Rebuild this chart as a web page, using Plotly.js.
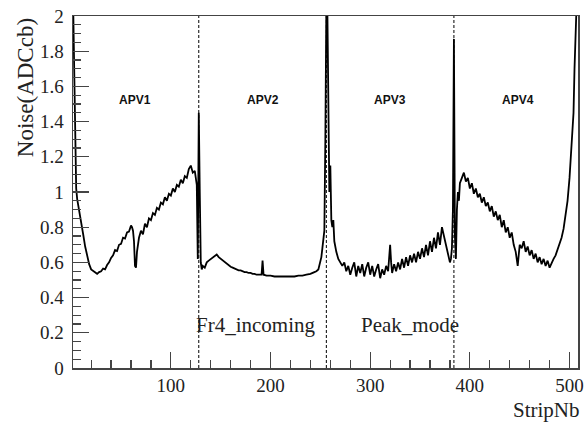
<!DOCTYPE html>
<html>
<head>
<meta charset="utf-8">
<script src="https://cdn.plot.ly/plotly-3.0.1.min.js"></script>
<style>html,body{margin:0;padding:0;background:#fff;}#chart{width:584px;height:427px;}</style>
</head>
<body>
<div id="chart"></div>
<script>
// Strip numbers and noise values (ADC counts)
const apv1Strips = [1,2,3,4,5,6,7,8,9,10,12,14,16,18,20,22,24,26,28,30,32,34,36,38,40,42,44,46,48,50,52,54,56,58,60,61,62,63,64,65,66,67,68,70,72,74,76,78,80,82,84,86,88,90,92,94,96,98,100,102,104,106,108,110,112,114,116,118,120,122,124,125,126,127,128];
const apv1Noise  = [2.05,2.05,1.7,1.25,1.02,0.96,0.93,0.9,0.86,0.82,0.76,0.69,0.63,0.59,0.56,0.55,0.54,0.535,0.545,0.55,0.565,0.56,0.585,0.6,0.625,0.64,0.67,0.665,0.7,0.705,0.74,0.735,0.77,0.775,0.81,0.8,0.78,0.72,0.58,0.57,0.66,0.72,0.74,0.78,0.76,0.82,0.8,0.85,0.84,0.88,0.87,0.91,0.9,0.94,0.93,0.97,0.95,0.99,0.98,1.02,1.0,1.04,1.03,1.07,1.05,1.09,1.08,1.13,1.15,1.11,1.12,1.08,1.04,0.62,1.45];

const apv2Strips = [129,130,131,132,134,136,138,140,142,144,146,148,150,152,154,156,158,160,162,164,166,168,170,172,174,176,178,180,182,184,186,188,190,191,192,193,196,200,204,208,212,216,220,224,228,232,236,240,244,246,248,250,251,252,253,254,255,256];
const apv2Noise  = [1.0,0.6,0.56,0.58,0.57,0.6,0.61,0.62,0.63,0.64,0.645,0.63,0.62,0.61,0.6,0.59,0.585,0.575,0.57,0.565,0.56,0.555,0.555,0.55,0.545,0.545,0.54,0.54,0.535,0.535,0.53,0.53,0.53,0.53,0.61,0.53,0.525,0.525,0.52,0.52,0.52,0.52,0.52,0.52,0.525,0.525,0.53,0.535,0.545,0.55,0.56,0.6,0.63,0.68,0.72,0.78,1.3,2.05];

const apv3Strips = [257,258,259,260,261,262,263,264,265,266,268,270,272,274,276,278,280,282,284,286,288,290,292,294,296,298,300,302,304,306,308,310,312,314,316,318,320,321,322,324,326,328,330,332,334,336,338,340,342,344,346,348,350,352,354,356,358,360,362,364,366,368,370,372,374,376,378,380,381,382,383,384];
const apv3Noise  = [2.05,1.3,1.0,1.15,0.84,0.8,0.84,0.72,0.68,0.66,0.62,0.6,0.58,0.6,0.55,0.58,0.53,0.57,0.6,0.52,0.58,0.54,0.59,0.52,0.57,0.6,0.53,0.58,0.52,0.56,0.59,0.51,0.56,0.53,0.58,0.55,0.7,0.6,0.54,0.59,0.55,0.6,0.56,0.62,0.57,0.63,0.58,0.64,0.6,0.65,0.6,0.66,0.62,0.68,0.63,0.7,0.64,0.72,0.66,0.74,0.68,0.77,0.7,0.8,0.75,0.7,0.64,0.6,0.62,0.68,0.9,1.87];

const apv4Strips = [385,386,387,388,389,390,392,394,396,398,400,402,404,406,408,410,412,414,416,418,420,422,424,426,428,430,432,434,436,438,440,442,444,446,448,449,450,452,454,456,458,460,462,464,466,468,470,472,474,476,478,480,482,484,486,488,490,492,494,496,498,500,502,504,505,506,507,508];
const apv4Noise  = [0.75,0.62,0.9,1.0,0.95,1.05,1.08,1.11,1.06,1.08,1.02,1.05,0.99,1.02,0.97,0.99,0.94,0.97,0.92,0.94,0.89,0.92,0.86,0.89,0.84,0.87,0.8,0.84,0.77,0.8,0.74,0.77,0.7,0.66,0.58,0.64,0.7,0.68,0.72,0.66,0.69,0.64,0.67,0.62,0.65,0.6,0.63,0.59,0.62,0.58,0.61,0.57,0.6,0.62,0.64,0.67,0.7,0.74,0.79,0.86,0.95,1.08,1.25,1.45,1.7,1.95,2.05,2.05];

const apvBoundaries = [128, 256, 384];
const apvLabels = ['APV1','APV2','APV3','APV4'];
const apvLabelX = [64, 192, 320, 448];
const apvLabelY = 1.52;
const modeLabels = ['Fr4_incoming','Peak_mode'];
const modeLabelX = [185, 340];
const modeLabelY = 0.245;

const strips = [].concat(apv1Strips, apv2Strips, apv3Strips, apv4Strips);
const noise = [].concat(apv1Noise, apv2Noise, apv3Noise, apv4Noise);

const serif = 'Liberation Serif';

const traces = [{
  x: strips, y: noise, type: 'scatter', mode: 'lines',
  line: {color: '#000', width: 1.8}, hoverinfo: 'skip', showlegend: false
}];

const shapes = apvBoundaries.map(b => ({
  type: 'line', xref: 'x', yref: 'y', x0: b, x1: b, y0: 0, y1: 2,
  line: {color: '#000', width: 1, dash: '3px,2px'}
}));

const annotations = [];
apvLabels.forEach((t, i) => annotations.push({
  x: apvLabelX[i], y: apvLabelY, xref: 'x', yref: 'y', text: t, showarrow: false,
  font: {family: 'Liberation Sans', size: 12, color: '#111', weight: 'bold'}
}));
modeLabels.forEach((t, i) => annotations.push({
  x: modeLabelX[i], y: modeLabelY, xref: 'x', yref: 'y', text: t, showarrow: false,
  font: {family: serif, size: 21, color: '#222'}
}));
annotations.push({
  x: -0.095, y: 0.795, xref: 'paper', yref: 'paper', text: 'Noise(ADCcb)', showarrow: false,
  xanchor: 'center', yanchor: 'middle',
  textangle: -90, font: {family: serif, size: 23, color: '#222'}
});
annotations.push({
  x: 1.008, y: -0.119, xref: 'paper', yref: 'paper', text: 'StripNb', showarrow: false,
  xanchor: 'right', yanchor: 'middle', font: {family: serif, size: 21, color: '#222'}
});

const layout = {
  width: 584, height: 427,
  margin: {l: 73, r: 6, t: 16, b: 59},
  paper_bgcolor: '#fff', plot_bgcolor: '#fff',
  xaxis: {
    range: [1.8, 508.5], showgrid: false, zeroline: false,
    showline: true, linecolor: '#444', linewidth: 1.5, mirror: true,
    ticks: 'inside', ticklen: 16, tickwidth: 1.2, tickcolor: '#444',
    tick0: 0, dtick: 100,
    minor: {ticks: 'inside', ticklen: 8, dtick: 20, tick0: 0, tickcolor: '#444', tickwidth: 1.2, showgrid: false},
    tickfont: {family: serif, size: 19, color: '#222'}
  },
  yaxis: {
    range: [0, 2], showgrid: false, zeroline: false,
    showline: true, linecolor: '#444', linewidth: 1.5, mirror: true,
    ticks: 'inside', ticklen: 16, tickwidth: 1.2, tickcolor: '#444',
    ticklabelstandoff: 4,
    tickvals: [0,0.2,0.4,0.6,0.8,1,1.2,1.4,1.6,1.8,2],
    ticktext: ['0','0.2','0.4','0.6','0.8','1','1.2','1.4','1.6','1.8','2'],
    minor: {ticks: 'inside', ticklen: 8, dtick: 0.05, tick0: 0, tickcolor: '#444', tickwidth: 1.2, showgrid: false},
    tickfont: {family: serif, size: 19, color: '#222'}
  },
  shapes: shapes,
  annotations: annotations
};

Plotly.newPlot('chart', traces, layout, {staticPlot: true, displayModeBar: false});
</script>
</body>
</html>
